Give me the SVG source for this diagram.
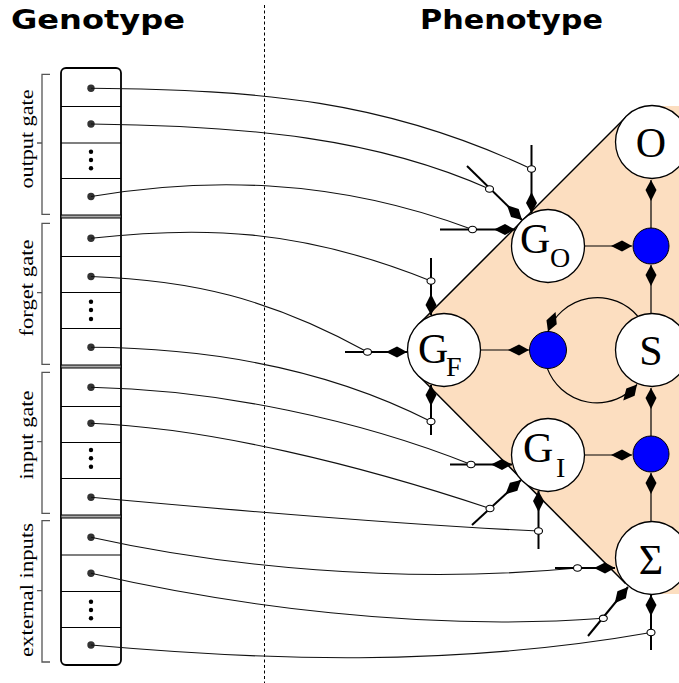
<svg xmlns="http://www.w3.org/2000/svg" width="679" height="683" viewBox="0 0 679 683">
<style>
.title{font-family:"DejaVu Sans","Liberation Sans",sans-serif;font-weight:bold;font-size:27px;fill:#000}
.lbl{font-family:"Liberation Serif",serif;font-size:18.5px;fill:#000}
.big{font-family:"Liberation Serif",serif;font-size:42px;fill:#000}
.sub{font-family:"Liberation Serif",serif;font-size:28px;fill:#000}
.node{fill:#fff;stroke:#000;stroke-width:1.3}
.mul{fill:#0000ff;stroke:#000;stroke-width:1}
.wire{fill:none;stroke:#000;stroke-width:1.2}
.inp{fill:none;stroke:#000;stroke-width:2}
.curve{fill:none;stroke:#111;stroke-width:1.1}
.ring{fill:#fff;stroke:#000;stroke-width:1.1}
.cell{stroke:#000;stroke-width:1.2}
.dot{fill:#333}
.edot{fill:#000}
.brk{fill:none;stroke:#555;stroke-width:1.3}
</style>
<defs>
<marker id="kite" markerUnits="userSpaceOnUse" markerWidth="24" markerHeight="12" viewBox="-22 -6 24 12" refX="0" refY="0" orient="auto">
<path d="M0,0 L-10,-5.5 L-21,0 L-10,5.5 Z" fill="#000"/>
</marker>
</defs>
<rect width="679" height="683" fill="#fff"/>

<!-- titles -->
<text class="title" x="11" y="29" textLength="174" lengthAdjust="spacingAndGlyphs">Genotype</text>
<text class="title" x="420" y="29" textLength="183" lengthAdjust="spacingAndGlyphs">Phenotype</text>
<line x1="264.5" y1="5" x2="264.5" y2="683" stroke="#000" stroke-width="1" stroke-dasharray="3,2.5"/>

<!-- genotype -->
<g id="genotype">
<rect x="61" y="68" width="60" height="597" rx="5" fill="#fff" stroke="#000" stroke-width="1.8"/>
<rect x="61" y="215" width="60" height="3" fill="#aaa" stroke="#000" stroke-width="1"/>
<rect x="61" y="365" width="60" height="3" fill="#aaa" stroke="#000" stroke-width="1"/>
<rect x="61" y="515" width="60" height="3" fill="#aaa" stroke="#000" stroke-width="1"/>
<line class="cell" x1="61" y1="106.5" x2="121" y2="106.5"/>
<line class="cell" x1="61" y1="143" x2="121" y2="143"/>
<line class="cell" x1="61" y1="178.5" x2="121" y2="178.5"/>
<line class="cell" x1="61" y1="256.5" x2="121" y2="256.5"/>
<line class="cell" x1="61" y1="292.5" x2="121" y2="292.5"/>
<line class="cell" x1="61" y1="328.5" x2="121" y2="328.5"/>
<line class="cell" x1="61" y1="406.5" x2="121" y2="406.5"/>
<line class="cell" x1="61" y1="442.5" x2="121" y2="442.5"/>
<line class="cell" x1="61" y1="478.5" x2="121" y2="478.5"/>
<line class="cell" x1="61" y1="555" x2="121" y2="555"/>
<line class="cell" x1="61" y1="591.5" x2="121" y2="591.5"/>
<line class="cell" x1="61" y1="627.5" x2="121" y2="627.5"/>
<circle class="dot" cx="91" cy="88.3" r="3.7"/>
<circle class="dot" cx="91" cy="124" r="3.7"/>
<circle class="edot" cx="91" cy="151.7" r="2.2"/><circle class="edot" cx="91" cy="160" r="2.2"/><circle class="edot" cx="91" cy="168.3" r="2.2"/>
<circle class="dot" cx="91" cy="196.5" r="3.7"/>
<circle class="dot" cx="91" cy="238.3" r="3.7"/>
<circle class="dot" cx="91" cy="276.5" r="3.7"/>
<circle class="edot" cx="91" cy="301.7" r="2.2"/><circle class="edot" cx="91" cy="310" r="2.2"/><circle class="edot" cx="91" cy="319" r="2.2"/>
<circle class="dot" cx="91" cy="347.3" r="3.7"/>
<circle class="dot" cx="91" cy="387.3" r="3.7"/>
<circle class="dot" cx="91" cy="423.3" r="3.7"/>
<circle class="edot" cx="91" cy="450" r="2.2"/><circle class="edot" cx="91" cy="458.3" r="2.2"/><circle class="edot" cx="91" cy="466.7" r="2.2"/>
<circle class="dot" cx="91" cy="497.3" r="3.7"/>
<circle class="dot" cx="91" cy="537.3" r="3.7"/>
<circle class="dot" cx="91" cy="573.3" r="3.7"/>
<circle class="edot" cx="91" cy="601.7" r="2.2"/><circle class="edot" cx="91" cy="610" r="2.2"/><circle class="edot" cx="91" cy="618.3" r="2.2"/>
<circle class="dot" cx="91" cy="645" r="3.7"/>
</g>

<g id="brackets">
<path class="brk" d="M50,74.3 H42 V214.3 H50 M42,143 H37"/>
<path class="brk" d="M50,223.3 H42 V364.3 H50 M42,292.7 H37"/>
<path class="brk" d="M50,372.3 H42 V513.3 H50 M42,441.7 H37"/>
<path class="brk" d="M50,520.7 H42 V662 H50 M42,590.7 H37"/>
<text class="lbl" transform="translate(33,139) rotate(-90)" text-anchor="middle" textLength="99" lengthAdjust="spacingAndGlyphs">output gate</text>
<text class="lbl" transform="translate(33,288) rotate(-90)" text-anchor="middle" textLength="97" lengthAdjust="spacingAndGlyphs">forget gate</text>
<text class="lbl" transform="translate(33,435) rotate(-90)" text-anchor="middle" textLength="89" lengthAdjust="spacingAndGlyphs">input gate</text>
<text class="lbl" transform="translate(33,590) rotate(-90)" text-anchor="middle" textLength="134" lengthAdjust="spacingAndGlyphs">external inputs</text>
</g>

<!-- phenotype background -->
<g id="cell-region">
<path d="M626.5,116.5 L418.5,324.5 A36,36 0 0 0 418.5,375.5 L625.5,583.5 A36,36 0 0 0 651,594 L700,594 L700,106 L652,106 A36,36 0 0 0 626.5,116.5 Z" fill="#fcdec0"/>
<line x1="626.5" y1="116.5" x2="418.5" y2="324.5" stroke="#000" stroke-width="1.5"/>
<line x1="418.5" y1="375.5" x2="625.5" y2="583.5" stroke="#000" stroke-width="1.5"/>
</g>

<g id="connectors">
<!-- genotype to phenotype curves -->
<path class="curve" d="M91,88.3 C260,90 385,100 531.5,169"/>
<path class="curve" d="M91,124 C250,126 375,138 489.5,189"/>
<path class="curve" d="M91,196.5 C200,178 330,176 472.5,229.5"/>
<path class="curve" d="M91,238.3 C200,226 300,228 431,281"/>
<path class="curve" d="M91,276.5 C190,280 270,298 367.5,352"/>
<path class="curve" d="M91,347.3 C200,348 320,365 431,421.5"/>
<path class="curve" d="M91,387.3 C220,390 360,420 471,464.5"/>
<path class="curve" d="M91,423.3 C210,428 360,465 490,508.5"/>
<path class="curve" d="M91,497.3 C230,510 400,525 538.5,531"/>
<path class="curve" d="M91,537.3 C220,566 400,585 577.5,568"/>
<path class="curve" d="M91,573.3 C230,605 420,632 603.3,618.3"/>
<path class="curve" d="M91,645 C260,660 450,668 651,632.5"/>
<!-- input lines into gates -->
<line class="inp" x1="531.5" y1="145" x2="531.5" y2="213" marker-end="url(#kite)"/>
<line class="inp" x1="467" y1="166" x2="522" y2="220" marker-end="url(#kite)"/>
<line class="inp" x1="440" y1="229.5" x2="515" y2="229.5" marker-end="url(#kite)"/>
<line class="inp" x1="431" y1="258" x2="431" y2="315" marker-end="url(#kite)"/>
<line class="inp" x1="345" y1="352" x2="407" y2="352" marker-end="url(#kite)"/>
<line class="inp" x1="431" y1="435" x2="431" y2="385" marker-end="url(#kite)"/>
<line class="inp" x1="450" y1="464.5" x2="512" y2="464.5" marker-end="url(#kite)"/>
<line class="inp" x1="472" y1="525" x2="521" y2="480" marker-end="url(#kite)"/>
<line class="inp" x1="538.5" y1="549" x2="538.5" y2="491" marker-end="url(#kite)"/>
<line class="inp" x1="555" y1="568" x2="615" y2="568" marker-end="url(#kite)"/>
<line class="inp" x1="588" y1="636" x2="628" y2="587" marker-end="url(#kite)"/>
<line class="inp" x1="651" y1="650" x2="651" y2="595" marker-end="url(#kite)"/>
<ellipse class="ring" cx="531.5" cy="169" rx="4" ry="3.2"/>
<ellipse class="ring" cx="489.5" cy="189" rx="4" ry="3.2"/>
<ellipse class="ring" cx="472.5" cy="229.5" rx="4" ry="3.2"/>
<ellipse class="ring" cx="431" cy="281" rx="4" ry="3.2"/>
<ellipse class="ring" cx="367.5" cy="352" rx="4" ry="3.2"/>
<ellipse class="ring" cx="431" cy="421.5" rx="4" ry="3.2"/>
<ellipse class="ring" cx="471" cy="464.5" rx="4" ry="3.2"/>
<ellipse class="ring" cx="490" cy="508.5" rx="4" ry="3.2"/>
<ellipse class="ring" cx="538.5" cy="531" rx="4" ry="3.2"/>
<ellipse class="ring" cx="577.5" cy="568" rx="4" ry="3.2"/>
<ellipse class="ring" cx="603.3" cy="618.3" rx="4" ry="3.2"/>
<ellipse class="ring" cx="651" cy="632.5" rx="4" ry="3.2"/>
<!-- internal wiring -->
<line class="wire" x1="651" y1="228" x2="651" y2="180" marker-end="url(#kite)"/>
<line class="wire" x1="651" y1="313" x2="651" y2="265" marker-end="url(#kite)"/>
<line class="wire" x1="651" y1="436" x2="651" y2="388" marker-end="url(#kite)"/>
<line class="wire" x1="651" y1="521" x2="651" y2="473" marker-end="url(#kite)"/>
<line class="wire" x1="584" y1="246" x2="632" y2="246" marker-end="url(#kite)"/>
<line class="wire" x1="480" y1="350" x2="529" y2="350" marker-end="url(#kite)"/>
<line class="wire" x1="584" y1="455" x2="632" y2="455" marker-end="url(#kite)"/>
<path class="wire" d="M637.6,316 A53,53 0 0 0 548,331.5" marker-end="url(#kite)"/>
<path class="wire" d="M547.3,368.4 A53,53 0 0 0 637,384.5" marker-end="url(#kite)"/>
</g>

<!-- nodes -->
<g id="node-O"><circle class="node" cx="652" cy="142" r="36.5"/><text class="big" x="651" y="157" text-anchor="middle">O</text></g>
<g id="node-GO"><circle class="node" cx="548" cy="246" r="36.5"/><text class="big" x="520" y="253">G</text><text class="sub" x="550" y="267">O</text></g>
<g id="mul-out"><circle class="mul" cx="651" cy="246" r="18"/></g>
<g id="node-GF"><circle class="node" cx="444" cy="350" r="36.5"/><text class="big" x="418" y="363">G</text><text class="sub" x="446" y="376">F</text></g>
<g id="mul-forget"><circle class="mul" cx="548" cy="350" r="18.5"/></g>
<g id="node-S"><circle class="node" cx="652" cy="350" r="36.5"/><text class="big" x="651" y="365" text-anchor="middle">S</text></g>
<g id="node-GI"><circle class="node" cx="548" cy="455" r="36.5"/><text class="big" x="523" y="462">G</text><text class="sub" x="556" y="477">I</text></g>
<g id="mul-in"><circle class="mul" cx="651" cy="454" r="18"/></g>
<g id="node-Sigma"><circle class="node" cx="652" cy="558" r="36.5"/><text class="big" x="651" y="574" text-anchor="middle">Σ</text></g>
</svg>
